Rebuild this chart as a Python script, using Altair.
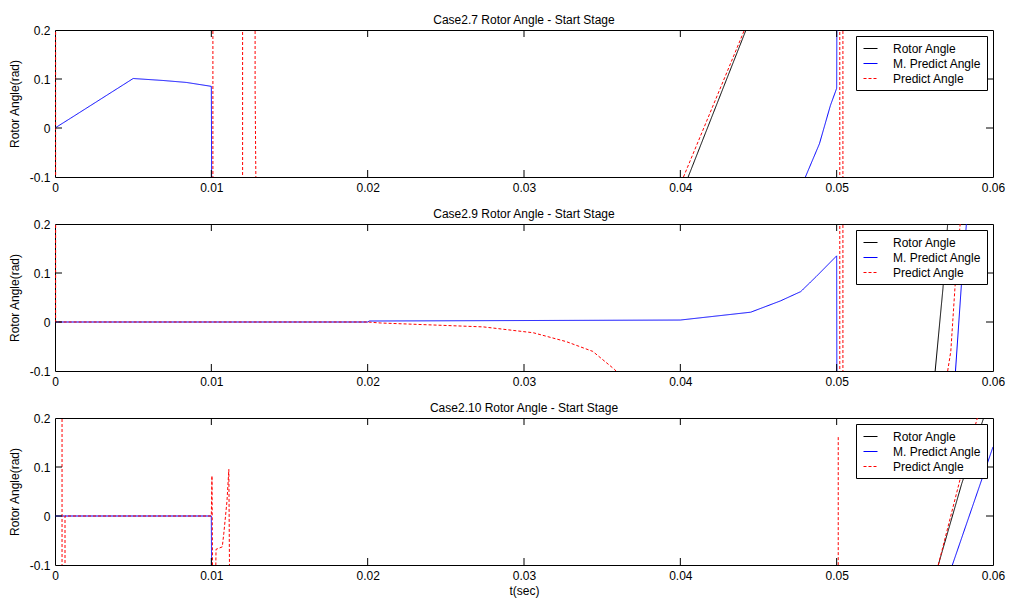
import altair as alt
import pandas as pd

FONT = "Liberation Sans"

SERIES = ["Rotor Angle", "M. Predict Angle", "Predict Angle"]
SERIES_COLORS = ["#000000", "#0000ff", "#ff0000"]
SERIES_DASH = [[1, 0], [1, 0], [3, 2]]

PANEL_TITLES = [
    "Case2.7 Rotor Angle - Start Stage",
    "Case2.9 Rotor Angle - Start Stage",
    "Case2.10 Rotor Angle - Start Stage",
]

X_TICK_VALUES = [0, 0.01, 0.02, 0.03, 0.04, 0.05, 0.06]
Y_TICK_VALUES = [-0.1, 0, 0.1, 0.2]
X_INNER_TICKS = [0.01, 0.02, 0.03, 0.04, 0.05]
Y_INNER_TICKS = [0, 0.1]

# Each series is a list of path segments; each segment a list of (t, angle).
# Values beyond the axis range are clipped, as in the original figure.
C27_ROTOR = [[(0.0405, -0.1), (0.0442, 0.2)]]
C27_MPRED = [
    [(0.0, 0.0), (0.001, 0.02), (0.005, 0.101), (0.0069, 0.097),
     (0.0084, 0.093), (0.0100, 0.085), (0.01004, -0.3)],
    [(0.0480, -0.1), (0.0489, -0.032), (0.0496, 0.046), (0.0500, 0.081),
     (0.05002, 0.3)],
]
C27_PRED = [
    [(0.00004, -0.3), (0.00004, 0.3)],
    [(0.0101, 0.3), (0.0101, -0.3)],
    [(0.0120, -0.3), (0.0120, 0.3)],
    [(0.0128, 0.3), (0.0128, 0.081), (0.0129, -0.3)],
    [(0.0402, -0.1), (0.0441, 0.2)],
    [(0.0502, -0.3), (0.0502, 0.3)],
    [(0.0504, 0.3), (0.0504, -0.3)],
]

C29_ROTOR = [[(0.0563, -0.1), (0.0568, 0.069), (0.0571, 0.2)]]
C29_MPRED = [
    [(0.0, 0.0), (0.0200, 0.0), (0.0201, 0.002), (0.0400, 0.004),
     (0.0445, 0.020), (0.0464, 0.043), (0.0477, 0.062), (0.0487, 0.093),
     (0.0500, 0.135), (0.05002, -0.3)],
    [(0.0576, -0.1), (0.0580, 0.086), (0.0583, 0.2)],
]
C29_PRED = [
    [(0.00004, 0.3), (0.00004, 0.0), (0.0200, 0.0), (0.0208, -0.002),
     (0.0274, -0.010), (0.0306, -0.022), (0.0327, -0.040), (0.0344, -0.060),
     (0.0358, -0.097), (0.0360, -0.105)],
    [(0.0502, -0.3), (0.0502, 0.3)],
    [(0.0504, 0.3), (0.0504, -0.3)],
    [(0.0571, -0.1), (0.0573, -0.06), (0.0576, 0.086), (0.0579, 0.2)],
]

C210_ROTOR = [[(0.0565, -0.1), (0.0580, 0.066), (0.0594, 0.2)]]
C210_MPRED = [
    [(0.0, 0.0), (0.0100, 0.0), (0.01004, -0.3)],
    [(0.0574, -0.1), (0.0600, 0.141)],
]
C210_PRED = [
    [(0.00045, 0.3), (0.00045, -0.3)],
    [(0.00064, -0.3), (0.00064, 0.0), (0.0100, 0.0), (0.01004, 0.082),
     (0.01008, -0.12), (0.01028, -0.12), (0.0103, -0.068), (0.0107, -0.063),
     (0.0108, -0.035), (0.0110, 0.03), (0.01112, 0.095), (0.0112, -0.3)],
    [(0.0501, 0.161), (0.0501, -0.3)],
    [(0.0565, -0.1), (0.0580, 0.088), (0.0590, 0.2)],
]

PANELS = [
    (C27_ROTOR, C27_MPRED, C27_PRED),
    (C29_ROTOR, C29_MPRED, C29_PRED),
    (C210_ROTOR, C210_MPRED, C210_PRED),
]

W, H = 938, 147
TICK = 7


def build_frame(series_lists):
    rows = []
    for name, segs in zip(SERIES, series_lists):
        for si, seg in enumerate(segs):
            for pi, (t, a) in enumerate(seg):
                rows.append({"series": name, "seg": f"{name}-{si}", "idx": pi,
                             "t": t, "angle": a})
    return pd.DataFrame(rows)


x_scale = alt.Scale(domain=[0, 0.06], nice=False, zero=False)
y_scale = alt.Scale(domain=[-0.1, 0.2], nice=False, zero=False)
color_scale = alt.Scale(domain=SERIES, range=SERIES_COLORS)
dash_scale = alt.Scale(domain=SERIES, range=SERIES_DASH)

DASH_EXPR = f"datum.value == '{SERIES[2]}' ? [3, 2] : []"


def make_panel(i, show_xtitle):
    df = build_frame(PANELS[i])
    x_axis = alt.Axis(values=X_TICK_VALUES, labelExpr="toString(datum.value)",
                      labelFlush=False, title="t(sec)" if show_xtitle else "",
                      labelPadding=5, titlePadding=4)
    y_axis = alt.Axis(values=Y_TICK_VALUES, labelExpr="toString(datum.value)",
                      title="Rotor Angle(rad)", labelPadding=5, titlePadding=8)
    legend = alt.Legend(
        title=None, orient="top-right", offset=6,
        symbolDash=alt.ExprRef(DASH_EXPR),
    )

    layers = []
    for name in SERIES:
        layers.append(
            alt.Chart(df).transform_filter(alt.datum.series == name)
            .mark_line(clip=True, strokeWidth=1)
            .encode(
                x=alt.X("t:Q", scale=x_scale, axis=x_axis),
                y=alt.Y("angle:Q", scale=y_scale, axis=y_axis),
                color=alt.Color("series:N", scale=color_scale, legend=legend),
                strokeDash=alt.StrokeDash("series:N", scale=dash_scale, legend=None),
                detail="seg:N",
                order="idx:Q",
            )
        )

    xt = pd.DataFrame({"t": X_INNER_TICKS})
    yt = pd.DataFrame({"angle": Y_INNER_TICKS})
    top = alt.Chart(xt).mark_rule(color="black", strokeWidth=1).encode(
        x=alt.X("t:Q", scale=x_scale), y=alt.value(0), y2=alt.value(TICK))
    bottom = alt.Chart(xt).mark_rule(color="black", strokeWidth=1).encode(
        x=alt.X("t:Q", scale=x_scale), y=alt.value(H - TICK), y2=alt.value(H))
    left = alt.Chart(yt).mark_rule(color="black", strokeWidth=1).encode(
        y=alt.Y("angle:Q", scale=y_scale), x=alt.value(0), x2=alt.value(TICK))
    right = alt.Chart(yt).mark_rule(color="black", strokeWidth=1).encode(
        y=alt.Y("angle:Q", scale=y_scale), x=alt.value(W - TICK), x2=alt.value(W))

    return alt.layer(*layers, top, bottom, left, right).properties(
        width=W, height=H,
        title=alt.Title(PANEL_TITLES[i], fontSize=12, fontWeight="normal",
                        font=FONT, color="black", offset=-3, anchor="middle",
                        frame="group"),
    )


chart = alt.vconcat(
    make_panel(0, False), make_panel(1, False), make_panel(2, True), spacing=13
).resolve_legend(color="independent").properties(
    padding={"left": 7, "top": 13, "right": 5, "bottom": 2}
).configure_view(stroke="black", strokeWidth=1).configure_axis(
    grid=False, domain=False, ticks=False, labelFont=FONT, labelFontSize=12,
    labelColor="black", titleFont=FONT, titleFontSize=12,
    titleFontWeight="normal", titleColor="black",
).configure_legend(
    strokeColor="black", fillColor="white", padding=5, cornerRadius=0,
    labelFont=FONT, labelFontSize=12, labelColor="black",
    symbolType="stroke", symbolStrokeWidth=1, symbolSize=196,
    rowPadding=1, labelOffset=15, symbolOffset=2,
)

chart.save("out.html", embed_options={"renderer": "svg", "actions": False})
